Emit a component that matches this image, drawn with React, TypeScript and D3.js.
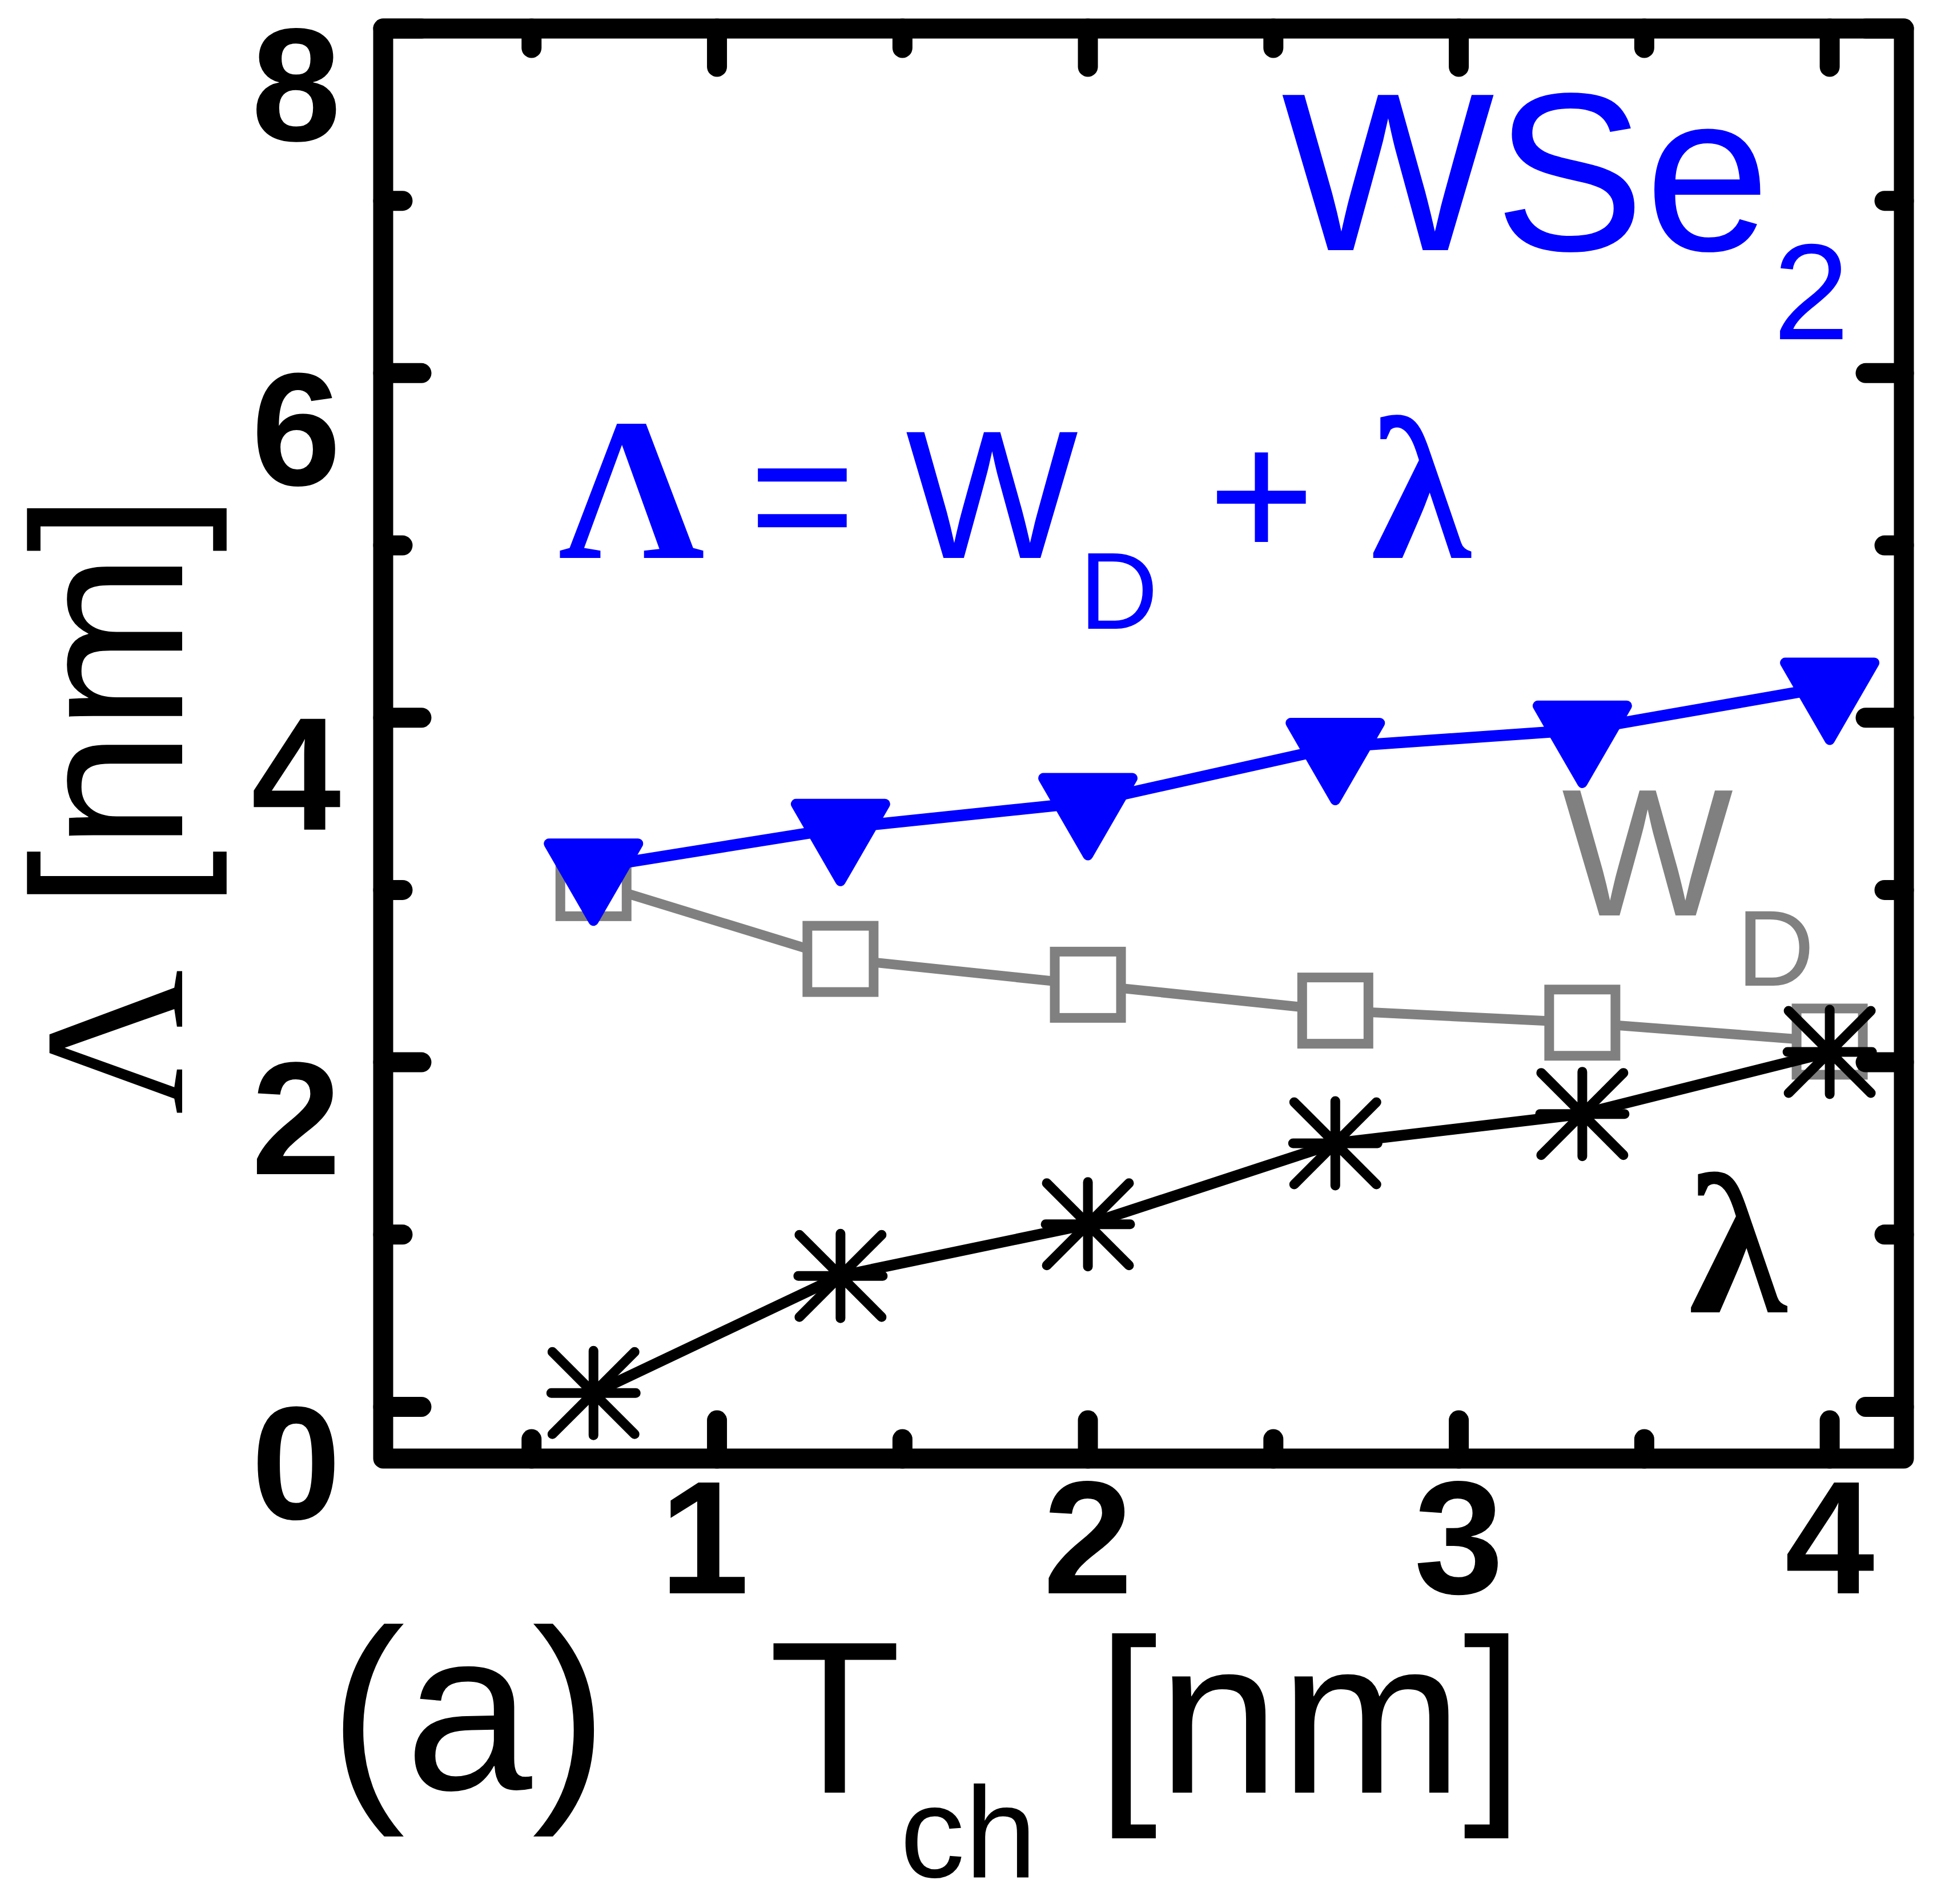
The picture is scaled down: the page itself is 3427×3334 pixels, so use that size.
import * as d3 from 'd3';
import React from 'react';

// channel thickness [nm] (1..6 layers)
const tch = [0.667, 1.333, 2.0, 2.667, 3.333, 4.0];
// total length Λ = W_D + λ
const bigLambda = [3.13, 3.36, 3.51, 3.83, 3.93, 4.18];
// depletion width W_D
const wD = [3.04, 2.6, 2.45, 2.3, 2.23, 2.12];
// natural length λ
const lambdaN = [0.08, 0.76, 1.06, 1.53, 1.7, 2.06];

const xMajor = [1, 2, 3, 4];
const xMinor = [0.5, 1.5, 2.5, 3.5];
const yMajor = [0, 2, 4, 6, 8];
const yMinor = [1, 3, 5, 7];

const W = 3427;
const H = 3334;
const left = 671;
const right = 3334;
const top = 50;
const bottom = 2554;

const SANS = '"Liberation Sans", Arial, Helvetica, sans-serif';
const SERIF = '"Liberation Serif", "Times New Roman", Times, serif';
const BLUE = '#0000ff';
const GRAY = '#808080';

type Pt = { x: number; y: number };
const toPts = (ys: number[]): Pt[] => tch.map((x, i) => ({ x, y: ys[i] }));

export default function App() {
  const x = d3.scaleLinear().domain([0.1, 4.2]).range([left, right]);
  const y = d3.scaleLinear().domain([-0.3, 8]).range([bottom, top]);

  const line = d3
    .line<Pt>()
    .x((d) => x(d.x))
    .y((d) => y(d.y));

  // marker outlines, centred on the data point
  const tri = 'M-78,-42L78,-42L0,93Z';
  const star = 'M-74,0L74,0M0,-74L0,74M-72,-72L72,72M-72,72L72,-72';

  const majorLen = 67;
  const minorLen = 34;

  return (
    <svg
      width={W}
      height={H}
      viewBox={`0 0 ${W} ${H}`}
      style={{ position: 'absolute', left: 0, top: 0, background: '#fff' }}
    >
      <rect x={0} y={0} width={W} height={H} fill="#fff" />

      {/* W_D series */}
      <path d={line(toPts(wD)) || ''} fill="none" stroke={GRAY} strokeWidth={17} />
      {toPts(wD).map((d, i) => (
        <rect
          key={`s${i}`}
          x={x(d.x) - 58}
          y={y(d.y) - 58}
          width={116}
          height={116}
          fill="#fff"
          stroke={GRAY}
          strokeWidth={17}
        />
      ))}

      {/* λ series */}
      <path d={line(toPts(lambdaN)) || ''} fill="none" stroke="#000" strokeWidth={19} />
      {toPts(lambdaN).map((d, i) => (
        <path
          key={`a${i}`}
          d={star}
          transform={`translate(${x(d.x)},${y(d.y)})`}
          stroke="#000"
          strokeWidth={17}
          strokeLinecap="round"
          fill="none"
        />
      ))}

      {/* Λ series */}
      <path d={line(toPts(bigLambda)) || ''} fill="none" stroke={BLUE} strokeWidth={20} />
      {toPts(bigLambda).map((d, i) => (
        <path
          key={`t${i}`}
          d={tri}
          transform={`translate(${x(d.x)},${y(d.y)})`}
          fill={BLUE}
          stroke={BLUE}
          strokeWidth={18}
          strokeLinejoin="round"
        />
      ))}

      {/* ticks */}
      <g stroke="#000" strokeWidth={35} strokeLinecap="round">
        {[...xMajor.map((v) => [v, majorLen]), ...xMinor.map((v) => [v, minorLen])].map(([v, len], i) => (
          <g key={`xt${i}`}>
            <line x1={x(v)} x2={x(v)} y1={bottom} y2={bottom - len} />
            <line x1={x(v)} x2={x(v)} y1={top} y2={top + len} />
          </g>
        ))}
        {[...yMajor.map((v) => [v, majorLen]), ...yMinor.map((v) => [v, minorLen])].map(([v, len], i) => (
          <g key={`yt${i}`}>
            <line x1={left} x2={left + len} y1={y(v)} y2={y(v)} />
            <line x1={right} x2={right - len} y1={y(v)} y2={y(v)} />
          </g>
        ))}
      </g>

      {/* frame */}
      <rect
        x={left}
        y={top}
        width={right - left}
        height={bottom - top}
        fill="none"
        stroke="#000"
        strokeWidth={35}
        strokeLinejoin="round"
      />

      {/* tick labels */}
      <g fontFamily={SANS} fontWeight="bold" fontSize={282} fill="#000">
        {yMajor.map((v) => (
          <text key={`yl${v}`} x={597} y={y(v) + 196} textAnchor="end">
            {v}
          </text>
        ))}
        {xMajor.map((v) => (
          <text key={`xl${v}`} x={x(v) - (v === 1 ? 22 : 0)} y={2790} textAnchor="middle">
            {v}
          </text>
        ))}
      </g>

      {/* y label */}
      <text transform="translate(319,1952) rotate(-90)" fill="#000">
        <tspan fontFamily={SERIF} fontSize={352}>Λ</tspan>
        <tspan fontFamily={SANS} fontSize={375}> [nm]</tspan>
      </text>

      {/* x label */}
      <g fontFamily={SANS} fill="#000">
        <text x={576} y={3133} fontSize={400}>(a)</text>
        <text x={1462} y={3139} fontSize={380} textAnchor="middle">T</text>
        <text x={1576} y={3287} fontSize={227}>ch</text>
        <text x={1920} y={3139} fontSize={385}>[nm]</text>
      </g>

      {/* WSe2 */}
      <g fontFamily={SANS} fill={BLUE}>
        <text x={2244} y={438} fontSize={395}>WSe</text>
        <text x={3105} y={594} fontSize={240}>2</text>
      </g>

      {/* Λ = W_D + λ */}
      <g fill={BLUE}>
        <text x={1106} y={977} fontFamily={SERIF} fontWeight="bold" fontSize={356} textAnchor="middle">Λ</text>
        <text x={1405} y={977} fontFamily={SANS} fontSize={320} textAnchor="middle">=</text>
        <text x={1737} y={977} fontFamily={SANS} fontSize={320} textAnchor="middle">W</text>
        <text x={1890} y={1101} fontFamily={SANS} fontSize={191}>D</text>
        <text x={2209} y={977} fontFamily={SANS} fontSize={320} textAnchor="middle">+</text>
        <text x={2488} y={977} fontFamily={SERIF} fontWeight="bold" fontSize={356} textAnchor="middle">λ</text>
      </g>

      {/* series labels */}
      <g fontFamily={SANS} fill={GRAY}>
        <text x={2885} y={1603} fontSize={318} textAnchor="middle">W</text>
        <text x={3041} y={1726} fontSize={189}>D</text>
      </g>
      <text x={3043} y={2298} fontFamily={SERIF} fontWeight="bold" fontSize={350} textAnchor="middle" fill="#000">
        λ
      </text>
    </svg>
  );
}
